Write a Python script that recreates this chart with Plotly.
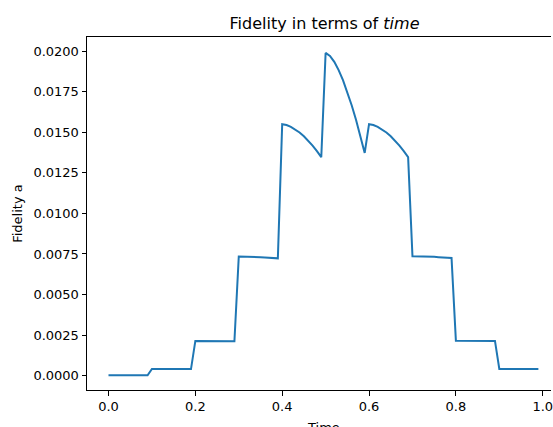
import plotly.graph_objects as go

# ---- data ----
time = [
    0.00, 0.01, 0.02, 0.03, 0.04, 0.05, 0.06, 0.07, 0.08, 0.09,
    0.10, 0.11, 0.12, 0.13, 0.14, 0.15, 0.16, 0.17, 0.18, 0.19,
    0.20, 0.21, 0.22, 0.23, 0.24, 0.25, 0.26, 0.27, 0.28, 0.29,
    0.30, 0.31, 0.32, 0.33, 0.34, 0.35, 0.36, 0.37, 0.38, 0.39,
    0.40, 0.41, 0.42, 0.43, 0.44, 0.45, 0.46, 0.47, 0.48, 0.49,
    0.50, 0.51, 0.52, 0.53, 0.54, 0.55, 0.56, 0.57, 0.58, 0.59,
    0.60, 0.61, 0.62, 0.63, 0.64, 0.65, 0.66, 0.67, 0.68, 0.69,
    0.70, 0.71, 0.72, 0.73, 0.74, 0.75, 0.76, 0.77, 0.78, 0.79,
    0.80, 0.81, 0.82, 0.83, 0.84, 0.85, 0.86, 0.87, 0.88, 0.89,
    0.90, 0.91, 0.92, 0.93, 0.94, 0.95, 0.96, 0.97, 0.98, 0.99,
]
fidelity = [
    0.00003, 0.00003, 0.00003, 0.00003, 0.00003, 0.00003, 0.00003, 0.00003, 0.00003, 0.00003,
    0.00042, 0.00042, 0.00042, 0.00042, 0.00041, 0.00041, 0.00041, 0.00041, 0.00041, 0.00041,
    0.00214, 0.00214, 0.00214, 0.00213, 0.00213, 0.00213, 0.00213, 0.00212, 0.00212, 0.00212,
    0.00734, 0.00734, 0.00733, 0.00732, 0.00731, 0.00730, 0.00728, 0.00727, 0.00725, 0.00723,
    0.01549, 0.01544, 0.01533, 0.01518, 0.01498, 0.01475, 0.01447, 0.01417, 0.01383, 0.01346,
    0.01988, 0.01970, 0.01933, 0.01882, 0.01820, 0.01748, 0.01666, 0.01577, 0.01479, 0.01372,
    0.01549, 0.01544, 0.01533, 0.01518, 0.01498, 0.01475, 0.01447, 0.01417, 0.01383, 0.01346,
    0.00736, 0.00736, 0.00735, 0.00734, 0.00733, 0.00732, 0.00730, 0.00729, 0.00727, 0.00725,
    0.00216, 0.00216, 0.00216, 0.00215, 0.00215, 0.00215, 0.00215, 0.00214, 0.00214, 0.00214,
    0.00042, 0.00042, 0.00042, 0.00042, 0.00042, 0.00042, 0.00042, 0.00042, 0.00042, 0.00042,
]
x_ticks = [0.0, 0.2, 0.4, 0.6, 0.8, 1.0]
y_ticks = [0.0, 0.0025, 0.005, 0.0075, 0.01, 0.0125, 0.015, 0.0175, 0.02]

title_text = "Fidelity in terms of <i>time</i>"
x_label = "Time"
y_label = "Fidelity a"

FONT = "DejaVu Sans"
W, H = 553, 427
L, T, B = 87, 37, 37

fig = go.Figure()
fig.add_trace(go.Scatter(
    x=time, y=fidelity, mode="lines",
    line=dict(color="#1f77b4", width=2),
    showlegend=False, hoverinfo="skip",
))

fig.update_layout(
    width=W, height=H,
    margin=dict(l=L, r=0, t=T, b=B, pad=0),
    paper_bgcolor="white", plot_bgcolor="white",
    font=dict(family=FONT, size=13, color="black"),
    title=dict(text=title_text, x=324.5 / W, xref="container", xanchor="center",
               y=1 - 23 / H, yref="container", yanchor="middle",
               font=dict(family=FONT, size=16, color="black")),
)

fig.update_xaxes(
    range=[-0.0495, (W - 108.7) / 436.0],
    tickvals=x_ticks, ticktext=[f"{v:.1f}" for v in x_ticks],
    ticklabeloverflow="allow",
    showgrid=False, zeroline=False,
    showline=True, linecolor="black", linewidth=1, mirror=True,
    ticks="outside", ticklen=4.5, tickwidth=1, tickcolor="black",
    tickfont=dict(family=FONT, size=13, color="black"),
)
fig.update_yaxes(
    range=[-0.00088, 0.020862],
    tickvals=y_ticks, ticktext=[f"{v:.4f}" for v in y_ticks],
    showgrid=False, zeroline=False,
    showline=True, linecolor="black", linewidth=1,
    ticks="outside", ticklen=4.5, tickwidth=1, tickcolor="black",
    tickfont=dict(family=FONT, size=13, color="black"),
)

fig.add_annotation(text=x_label, xref="paper", yref="paper",
                   x=(324.5 - L) / (W - L), y=-(418 - (H - B)) / (H - T - B),
                   xanchor="center", yanchor="top", showarrow=False,
                   font=dict(family=FONT, size=13, color="black"))
fig.add_annotation(text=y_label, xref="paper", yref="paper",
                   x=-(L - 17) / (W - L), y=0.5, textangle=-90,
                   xanchor="center", yanchor="middle", showarrow=False,
                   font=dict(family=FONT, size=13, color="black"))

fig.write_html(
    "out.html",
    config={"displayModeBar": False},
    post_script="document.body.style.margin='0';document.body.style.overflow='hidden';",
)
